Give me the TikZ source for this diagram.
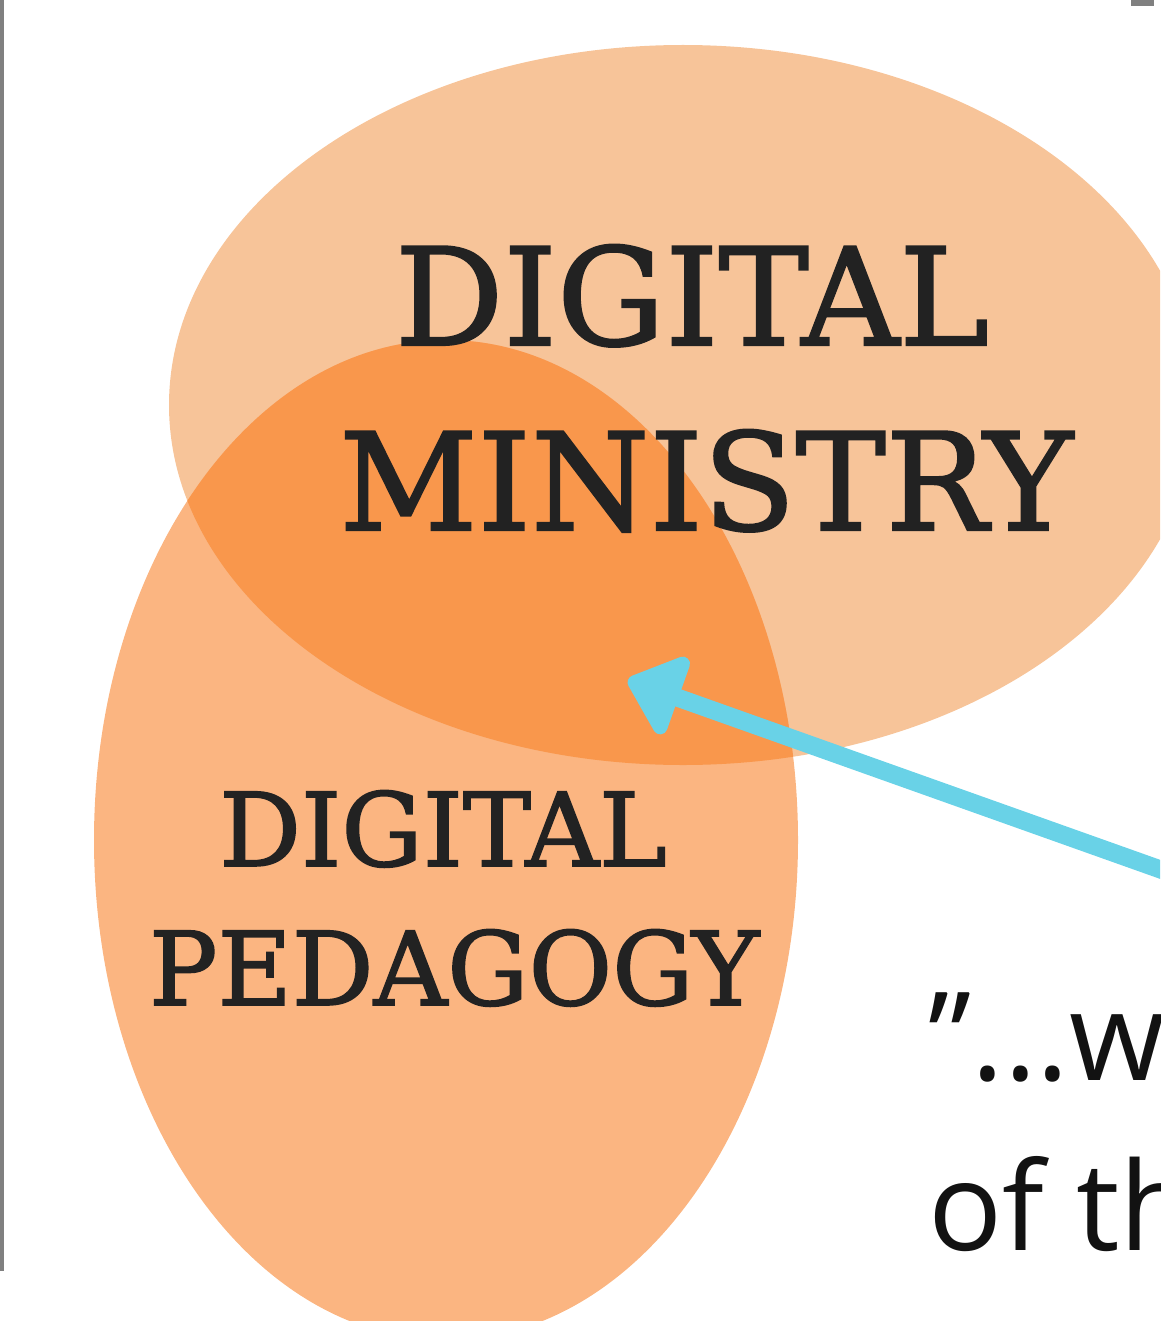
\documentclass[tikz,border=0pt]{standalone}
\usepackage{fontspec}
\setmainfont{DejaVu Serif}
\newfontfamily\titlefont{DejaVu Serif}[FakeBold=1.6]
\newfontfamily\quotefont{Open Sans}
\usepackage{xcolor}
\usetikzlibrary{arrows.meta,positioning}

\definecolor{ministrycol}{HTML}{F7C499}
\definecolor{pedagogycol}{HTML}{FBB581}
\definecolor{overlapcol}{HTML}{F9974C}
\definecolor{arrowcol}{HTML}{69D2E7}
\definecolor{inkcol}{HTML}{222222}

\begin{document}
\begin{tikzpicture}[
    x=0.02cm, y=-0.02cm,
    bigtitle/.style={anchor=base, inner sep=0pt, text=inkcol, font=\titlefont\fontsize{77}{90}\selectfont},
    smalltitle/.style={anchor=base, inner sep=0pt, text=inkcol, font=\titlefont\fontsize{58}{70}\selectfont},
    quotetext/.style={anchor=base west, inner sep=0pt, text=black!93, font=\quotefont\fontsize{70}{80}\selectfont},
    pointer/.style={line width=0.36cm, arrowcol, -{Triangle[length=1.15cm, width=1.9cm, round]}}
  ]
    \useasboundingbox (0,0) rectangle (1160,1321);
    \clip (0,0) rectangle (1160,1321);
    % frame marks
    \fill[gray] (0,0) rectangle (3.5,1271);
    \fill[gray] (1131,0) rectangle (1154,6);
    % the two sets
    \fill[ministrycol] (683,405) ellipse [x radius=514, y radius=360];
    \fill[pedagogycol] (446,840) ellipse [x radius=352, y radius=500];
    \begin{scope}
      \clip (446,840) ellipse [x radius=352, y radius=500];
      \fill[overlapcol] (683,405) ellipse [x radius=514, y radius=360];
    \end{scope}
    % labels
    \node[bigtitle] (dm1) at (692,345) {DIGITAL};
    \node[bigtitle] (dm2) at (706,530) {MINISTRY};
    \node[smalltitle] (dp1) at (443,866) {DIGITAL};
    \node[smalltitle] (dp2) at (454,1005) {PEDAGOGY};
    \node[quotetext] (q1) at (928,1080) {”...w};
    \node[quotetext] (q2) at (928,1250) {of th};
    % arrow into the overlap
    \coordinate (qstart) at (1190,880);
    \coordinate (qtip) at (628,680);
    \draw[pointer] (qstart) -- (qtip);
\end{tikzpicture}
\end{document}
